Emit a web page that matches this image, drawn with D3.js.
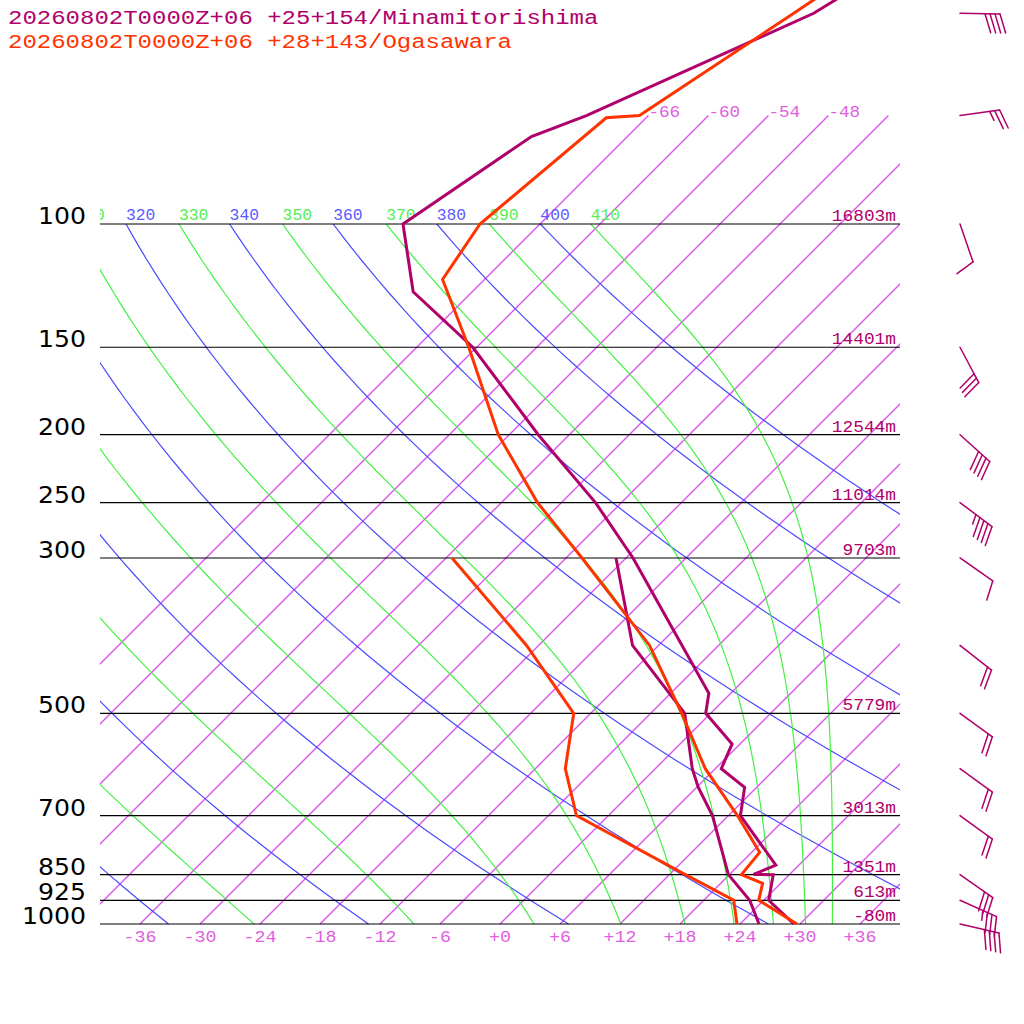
<!DOCTYPE html>
<html lang="en">
<head>
<meta charset="UTF-8">
<title>Skew-T: Minamitorishima / Ogasawara</title>
<script src="https://d3js.org/d3.v7.min.js"></script>
<style>
  body { margin: 0; background: #fff; }
  svg { display: block; }
</style>
</head>
<body>
<div id="chart"></div>
<script>
const stationTitles = ["20260802T0000Z+06 +25+154/Minamitorishima", "20260802T0000Z+06 +28+143/Ogasawara"];
const stationColors = ["#b0006a", "#ff3300"];

// Minamitorishima
const s1TempP = [40, 50, 70, 75, 100, 125, 150, 200, 250, 300, 468, 500, 553, 600, 638, 700, 824, 849.5, 850.5, 925, 1000];
const s1Temp  = [-55.5, -59.7, -72.2, -75.6, -79.7, -71.9, -60.4, -45.1, -32.6, -23.3, -2.2, -0.5, 5.2, 6.6, 10.8, 13.2, 21.7, 20.4, 22.4, 24.5, 29.4];
const s1DewP  = [300, 400, 500, 600, 637, 700, 850, 925, 1000];
const s1Dew   = [-25.0, -14.6, -2.6, 3.7, 6.1, 10.4, 17.9, 22.6, 25.9];

// Ogasawara
const s2TempP = [40, 50, 70, 70.5, 100, 120, 150, 200, 250, 300, 400, 500, 600, 700, 790, 850, 875, 925, 1000];
const s2Temp  = [-58.4, -61.7, -66.9, -70.0, -72.0, -70.2, -60.8, -49.1, -38.4, -28.4, -12.9, -2.9, 5.0, 12.9, 18.8, 19.2, 22.2, 23.5, 29.7];
const s2DewP  = [300, 400, 500, 600, 700, 850, 925, 1000];
const s2Dew   = [-41.4, -25.2, -13.7, -9.0, -3.2, 13.6, 21.0, 23.7];

// winds (Minamitorishima), direction in degrees, speed in knots
const windP   = [50, 70, 100, 150, 200, 250, 300, 400, 500, 600, 700, 850, 925, 1000];
const windDir = [91, 82, 161, 152, 132, 127, 125, 128, 126, 126, 126, 125, 114, 103];
const windSpd = [40, 25, 10, 30, 40, 45, 10, 20, 20, 20, 20, 30, 35, 40];

// isobars and geopotential heights
const isobars = [100, 150, 200, 250, 300, 500, 700, 850, 925, 1000];
const isobarHeights = ["16803m", "14401m", "12544m", "11014m", "9703m", "5779m", "3013m", "1351m", "613m", "-80m"];

// background lines
const isotherms = [-66, -60, -54, -48, -42, -36, -30, -24, -18, -12, -6, 0, 6, 12, 18, 24, 30, 36];
const isothermTopLabels = [-66, -60, -54, -48];
const xTickTemps  = [-36, -30, -24, -18, -12, -6, 0, 6, 12, 18, 24, 30, 36];
const xTickLabels = ["-36", "-30", "-24", "-18", "-12", "-6", "+0", "+6", "+12", "+18", "+24", "+30", "+36"];
const dryThetas   = [240, 260, 280, 300, 320, 340, 360, 380, 400];
const moistThetas = [250, 270, 290, 310, 330, 350, 370, 390, 410];

// ---- chart ----
const svg = d3.select("#chart").append("svg")
    .attr("width", 1024)
    .attr("height", 1024)
    .style("background", "#fff");

const y = d3.scaleLog().domain([1000, 100]).range([924, 224]);
const xT = d3.scaleLinear().domain([-40, 40]).range([100, 900]);
const skewX = (t, p) => xT(t) + (y(1000) - y(p));

svg.append("defs").append("clipPath").attr("id", "plot")
  .append("rect").attr("x", 100).attr("y", 0).attr("width", 800).attr("height", 925);

const mono = "'Liberation Mono', 'DejaVu Sans Mono', monospace";

function monoText(sel, str, size, adv) {
    sel.attr("font-family", mono)
       .attr("font-size", size)
       .attr("textLength", str.length * adv)
       .attr("lengthAdjust", "spacingAndGlyphs")
       .text(str);
    return sel;
}

const grid = svg.append("g").attr("clip-path", "url(#plot)");

// isotherms from 1000 hPa up to 70 hPa
isotherms.forEach(t => {
    grid.append("line")
        .attr("x1", skewX(t, 1000)).attr("y1", y(1000))
        .attr("x2", skewX(t, 70)).attr("y2", y(70))
        .style("stroke", "#dd55f0")
        .style("stroke-width", 1.4);
});
isothermTopLabels.forEach(t => {
    monoText(grid.append("text")
        .attr("x", skewX(t, 70))
        .attr("y", y(70) + 1)
        .attr("fill", "#e060e0"), String(t), 17, 10.6);
});

// sampling of pressure for curved lines
const pSamples = d3.range(0, 61).map(i => 1000 * Math.pow(0.1, i / 60));

// dry adiabats
const adiabat = d3.line().x(d => skewX(d[0], d[1])).y(d => y(d[1]));
dryThetas.forEach(th => {
    const pts = pSamples.map(p => [th * Math.pow(p / 1000, 0.2857) - 273.15, p]);
    grid.append("path").datum(pts)
        .attr("d", adiabat)
        .style("fill", "none")
        .style("stroke", "#4a4aff")
        .style("stroke-width", 1.2);
});

// pseudo-adiabats, by equivalent potential temperature (Bolton)
function thetaE(tc, p) {
    const tk = tc + 273.15;
    const es = 6.112 * Math.exp(17.67 * tc / (tc + 243.5));
    if (es >= p * 0.95) return Infinity;
    const r = 622 * es / (p - es);
    return tk * Math.pow(1000 / p, 0.2854 * (1 - 0.00028 * r)) *
        Math.exp((3.376 / tk - 0.00254) * r * (1 + 0.00081 * r));
}
function moistT(te, p) {
    let lo = -150, hi = 60;
    for (let i = 0; i < 50; i++) {
        const mid = (lo + hi) / 2;
        if (thetaE(mid, p) > te) hi = mid; else lo = mid;
    }
    return (lo + hi) / 2;
}
moistThetas.forEach(te => {
    const pts = pSamples.map(p => [moistT(te, p), p]);
    grid.append("path").datum(pts)
        .attr("d", adiabat)
        .style("fill", "none")
        .style("stroke", "#44f044")
        .style("stroke-width", 1.2);
});

// theta labels along 100 hPa (only those that reach into the plot)
dryThetas.concat(moistThetas).forEach(th => {
    const isDry = dryThetas.includes(th);
    const t = isDry ? th * Math.pow(0.1, 0.2857) - 273.15 : moistT(th, 100);
    const lx = skewX(t, 100);
    if (lx < 70) return;
    monoText(grid.append("text")
        .attr("x", lx)
        .attr("y", y(100) - 4)
        .attr("fill", isDry ? "#5a5aff" : "#55ee55"), String(th), 17, 9.8);
});

// isobars
isobars.forEach((p, i) => {
    svg.append("line")
        .attr("x1", 100).attr("x2", 900)
        .attr("y1", y(p)).attr("y2", y(p))
        .style("stroke", "#000")
        .style("stroke-width", 1.2);
    svg.append("text")
        .attr("x", 86).attr("y", y(p))
        .attr("text-anchor", "end")
        .attr("font-family", "'DejaVu Sans', sans-serif")
        .attr("font-size", 23)
        .attr("textLength", String(p).length * 16)
        .attr("lengthAdjust", "spacingAndGlyphs")
        .attr("fill", "#000")
        .text(p);
    monoText(svg.append("text")
        .attr("x", 896).attr("y", y(p) - 3)
        .attr("text-anchor", "end")
        .attr("fill", stationColors[0]), isobarHeights[i], 17, 10.7);
});

// temperature axis labels
xTickTemps.forEach((t, i) => {
    monoText(svg.append("text")
        .attr("x", xT(t)).attr("y", 942)
        .attr("text-anchor", "middle")
        .attr("fill", "#e060e0"), xTickLabels[i], 16, 11);
});

// profiles
const prof = svg.append("g").attr("clip-path", "url(#plot)");
const profLine = d3.line().x(d => skewX(d[1], d[0])).y(d => y(d[0]));
const profiles = [
    [d3.zip(s1TempP, s1Temp), stationColors[0]],
    [d3.zip(s1DewP, s1Dew), stationColors[0]],
    [d3.zip(s2TempP, s2Temp), stationColors[1]],
    [d3.zip(s2DewP, s2Dew), stationColors[1]]
];
profiles.forEach(([pts, c]) => {
    prof.append("path").datum(pts)
        .attr("d", profLine)
        .style("fill", "none")
        .style("stroke", c)
        .style("stroke-width", 3)
        .style("stroke-linejoin", "miter");
});

// wind barbs
const barbs = svg.append("g")
    .style("stroke", stationColors[0])
    .style("stroke-width", 1.5)
    .style("stroke-linecap", "round");
windP.forEach((p, i) => {
    const cx = 960, cy = y(p);
    const rad = windDir[i] * Math.PI / 180;
    const ux = Math.sin(rad), uy = -Math.cos(rad);
    const px = -uy, py = ux;
    const bx = 0.95 * px + 0.3 * ux, by = 0.95 * py + 0.3 * uy;
    const tipX = cx + 40 * ux, tipY = cy + 40 * uy;
    barbs.append("line").attr("x1", cx).attr("y1", cy).attr("x2", tipX).attr("y2", tipY);
    const full = Math.floor(windSpd[i] / 10);
    const half = windSpd[i] % 10 >= 5 ? 1 : 0;
    let pos = 0;
    for (let k = 0; k < full + half; k++) {
        const len = k < full ? 20 : 10;
        const sx = tipX - pos * ux, sy = tipY - pos * uy;
        barbs.append("line")
            .attr("x1", sx).attr("y1", sy)
            .attr("x2", sx + len * bx).attr("y2", sy + len * by);
        pos += 5;
    }
});

// titles
stationTitles.forEach((s, i) => {
    monoText(svg.append("text")
        .attr("x", 8).attr("y", 24 + i * 24)
        .attr("fill", stationColors[i]), s, 20, 14.4);
});
</script>
</body>
</html>
